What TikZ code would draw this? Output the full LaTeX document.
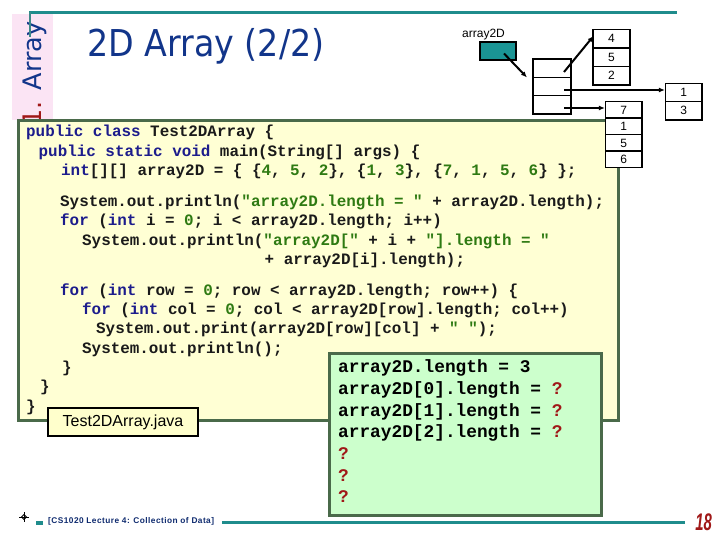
\documentclass[tikz,border=0pt]{standalone}
\usepackage{fontspec}
\usetikzlibrary{arrows.meta,calc}
\setmainfont{Liberation Sans}
\newfontfamily\codefont{Liberation Mono}
\newfontfamily\titlefont[FakeStretch=0.9]{DejaVu Sans}
\newfontfamily\sidefont{DejaVu Sans}
\newfontfamily\footfont[LetterSpace=5.5]{Liberation Sans}
\newfontfamily\pgfont[FakeStretch=0.62]{Liberation Sans}
\definecolor{teal1}{HTML}{1F8C8C}
\definecolor{navy}{HTML}{12358A}
\definecolor{kwblue}{HTML}{1C1C8C}
\definecolor{litgreen}{HTML}{2E7A12}
\definecolor{codeblack}{HTML}{1A1A1A}
\definecolor{boxgreen}{HTML}{4A6A4A}
\definecolor{codebg}{HTML}{FFFFD4}
\definecolor{outbg}{HTML}{CCFFCC}
\definecolor{labelbg}{HTML}{FFFFCC}
\definecolor{pinkbg}{HTML}{FBE4F4}
\definecolor{darkred}{HTML}{A01818}
\definecolor{refteal}{HTML}{1A9494}
\newcommand\kwd[1]{\textcolor{kwblue}{#1}}
\newcommand\litg[1]{\textcolor{litgreen}{#1}}
\newcommand\qmk[1]{\textcolor{darkred}{#1}}
\tikzset{
  code/.style={inner sep=0pt, anchor=base west, text=codeblack,
    font=\codefont\bfseries\fontsize{15.9}{18}\selectfont\frenchspacing},
  outcode/.style={inner sep=0pt, anchor=base west, text=black,
    font=\codefont\bfseries\fontsize{17.8}{20}\selectfont\frenchspacing},
  cell/.style={draw=black, line width=1.5pt, fill=white, inner sep=0pt,
    font=\fontsize{12}{12}\selectfont},
  ptr/.style={draw=black, line width=2pt, -{Latex[length=6pt,width=5pt]}},
}
\begin{document}
\begin{tikzpicture}[x=1pt,y=-1pt]
\useasboundingbox (0,0) rectangle (720,540);
% side strip
\fill[pinkbg] (12,14) rectangle (53,120);
\node[inner sep=0pt, rotate=90, anchor=base east, font=\sidefont\fontsize{25.5}{26}\selectfont] (side) at (41.5,21.5) {\textcolor{darkred}{1.} \textcolor{navy}{Array}};
% top rule
\draw[teal1, line width=2.5pt] (29,12.5) -- (677,12.5);
\draw[color=teal1!70!gray, line width=2pt] (29.8,12) -- (29.8,37);
% title
\node[inner sep=0pt, anchor=base west, text=navy, font=\titlefont\fontsize{37}{40}\selectfont] (title) at (87,56.5) {2D Array (2/2)};
% code box
\draw[boxgreen, line width=3pt, fill=codebg] (18.5,120.5) rectangle (618,420);
\node[code] (l1) at (26,137) {\kwd{public class} Test2DArray \{};
\node[code] (l2) at (38.5,156.3) {\kwd{public static void} main(String[] args) \{};
\node[code] (l3) at (61,175.6) {\kwd{int}[][] array2D = \{ \{\litg{4}, \litg{5}, \litg{2}\}, \{\litg{1}, \litg{3}\}, \{\litg{7}, \litg{1}, \litg{5}, \litg{6}\} \};};
\node[code] (l4) at (60,206.5) {System.out.println(\litg{"array2D.length = "} + array2D.length);};
\node[code] (l5) at (60,225.8) {\kwd{for} (\kwd{int} i = \litg{0}; i < array2D.length; i++)};
\node[code] (l6) at (82,245.1) {System.out.println(\litg{"array2D["} + i + \litg{"].length = "}};
\node[code] (l7) at (264.5,264.4) {+ array2D[i].length);};
\node[code] (l8) at (60,295.3) {\kwd{for} (\kwd{int} row = \litg{0}; row < array2D.length; row++) \{};
\node[code] (l9) at (82,314.6) {\kwd{for} (\kwd{int} col = \litg{0}; col < array2D[row].length; col++)};
\node[code] (l10) at (96,333.9) {System.out.print(array2D[row][col] + \litg{" "});};
\node[code] (l11) at (82,353.2) {System.out.println();};
\node[code] (l12) at (62,372.5) {\}};
\node[code] (l13) at (40,391.8) {\}};
\node[code] (l14) at (26,411.1) {\}};
% file label
\node[draw=black, line width=2pt, fill=labelbg, minimum width=150pt, minimum height=28pt, inner sep=0pt, font=\fontsize{16}{16}\selectfont] (file) at (123,422) {Test2DArray.java};
% output box
\draw[boxgreen, line width=3pt, fill=outbg] (329.5,353.5) rectangle (601.5,515);
\node[outcode] (o1) at (338,372.7) {array2D.length = 3};
\node[outcode] (o2) at (338,394.4) {array2D[0].length = \qmk{?}};
\node[outcode] (o3) at (338,416.1) {array2D[1].length = \qmk{?}};
\node[outcode] (o4) at (338,437.8) {array2D[2].length = \qmk{?}};
\node[outcode] (o5) at (338,459.5) {\qmk{?}};
\node[outcode] (o6) at (338,481.2) {\qmk{?}};
\node[outcode] (o7) at (338,502.9) {\qmk{?}};
% reference variable
\node[inner sep=0pt, anchor=base, font=\fontsize{12}{12}\selectfont] (varname) at (483.5,37.3) {array2D};
\node[draw=black, line width=1.2pt, fill=refteal, minimum width=36pt, minimum height=18pt, inner sep=0pt] (var) at (498,51) {};
% main array
\node[cell, minimum width=38pt, minimum height=18.3pt] (m0) at (552,68.2) {};
\node[cell, minimum width=38pt, minimum height=18.3pt] (m1) at (552,86.5) {};
\node[cell, minimum width=38pt, minimum height=18.3pt] (m2) at (552,104.8) {};
% row {4,5,2}
\node[cell, minimum width=37pt, minimum height=18.6pt] (a0) at (611.5,38.6) {4};
\node[cell, minimum width=37pt, minimum height=18.6pt] (a1) at (611.5,57.2) {5};
\node[cell, minimum width=37pt, minimum height=18.6pt] (a2) at (611.5,75.7) {2};
% row {1,3}
\node[cell, minimum width=36.3pt, minimum height=18.35pt] (b0) at (683.8,92.5) {1};
\node[cell, minimum width=36.3pt, minimum height=18.35pt] (b1) at (683.8,110.8) {3};
% row {7,1,5,6}
\node[cell, minimum width=36.3pt, minimum height=16.5pt] (c0) at (623.8,109.95) {7};
\node[cell, minimum width=36.3pt, minimum height=16.5pt] (c1) at (623.8,126.45) {1};
\node[cell, minimum width=36.3pt, minimum height=16.5pt] (c2) at (623.8,142.95) {5};
\node[cell, minimum width=36.3pt, minimum height=16.5pt] (c3) at (623.8,159.45) {6};
% pointers
\coordinate (v0) at (504,53.5);
\coordinate (vt) at (527,77.5);
\coordinate (s0) at (564,72);
\coordinate (t0) at (593.5,36);
\coordinate (s1) at (564,90);
\coordinate (s2) at (564,108);
\draw[ptr] (v0) -- (vt);
\draw[ptr] (s0) -- (t0);
\draw[ptr] (s1) -- (s1 -| b0.west);
\draw[ptr] (s2) -- (s2 -| c0.west);
% footer
\coordinate (ic) at (24,517);
\draw[black, line width=0.6pt] ($(ic)+(-5,0)$) -- ($(ic)+(5,0)$) ($(ic)+(0,-5)$) -- ($(ic)+(0,5)$);
\draw[black, line width=0.8pt] ($(ic)+(-2.5,0)$) -- ($(ic)+(0,-2.5)$) -- ($(ic)+(2.5,0)$) -- ($(ic)+(0,2.5)$) -- cycle;
\fill[teal1] (36,521) rectangle (43,524.5);
\node[inner sep=0pt, anchor=west, text=navy!80!black, font=\footfont\bfseries\fontsize{8.3}{8}\selectfont] (foot) at (48,521.5) {[CS1020 Lecture 4: Collection of Data]};
\draw[teal1, line width=3pt] (222,522) -- (685,522);
\node[inner sep=0pt, anchor=base east, text=darkred, font=\pgfont\bfseries\itshape\fontsize{24}{24}\selectfont] (pg) at (712,530) {18};
\end{tikzpicture}
\end{document}
